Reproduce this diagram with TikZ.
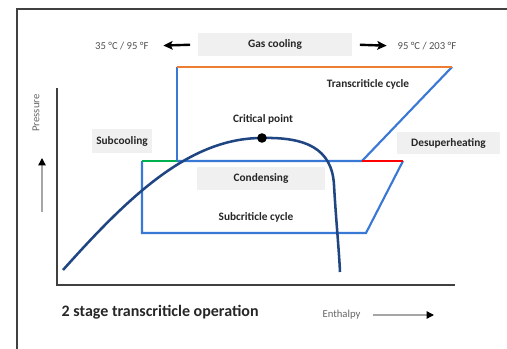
\documentclass[tikz,border=0pt]{standalone}
\usepackage{fontspec}
\setmainfont{Carlito}
\usepackage{tikz}
\usetikzlibrary{arrows.meta,positioning,calc}
\definecolor{clrTxt}{RGB}{38,38,38}
\definecolor{clrAx}{RGB}{64,64,64}
\definecolor{clrCyc}{RGB}{58,120,214}
\definecolor{clrDome}{RGB}{31,70,130}
\definecolor{clrGc}{RGB}{237,125,49}
\definecolor{clrSc}{RGB}{0,176,80}
\definecolor{clrDs}{RGB}{255,0,0}
\definecolor{bgBox}{RGB}{240,240,240}
\tikzset{
  lbl/.style={font=\fontsize{8.5}{10}\selectfont\bfseries,text=clrTxt,inner sep=1pt},
  tag/.style={lbl,fill=bgBox,inner sep=0pt},
  temp/.style={font=\fontsize{8}{10}\selectfont,text=clrTxt!80,inner sep=1pt},
  axis/.style={font=\fontsize{8}{9}\selectfont,text=black!60,inner sep=1pt},
  cycle/.style={line width=1.6pt,color=clrCyc},
  dome/.style={line width=1.9pt,color=clrDome},
  arrow/.style={-{Stealth[length=7pt,width=6.5pt,inset=1.5pt]},line width=1.8pt,color=black},
  axarrow/.style={-{Triangle[length=5.5pt,width=5.5pt,color=black]},line width=1pt,color=gray!70}
}

\begin{document}
\begin{tikzpicture}[x=0.75pt,y=-0.75pt]
  \clip (0,0) rectangle (507,349);
  \draw[clrAx,line width=1pt] (17,360) -- (17,9) -- (520,9);
  \draw[clrAx,line width=1.5pt] (57,88) -- (57,285) -- (455,285);
  \coordinate (t1) at (177,67);
  \coordinate (t2) at (452,67);
  \coordinate (t3) at (362,161);
  \coordinate (t4) at (177,161);
  \coordinate (s1) at (142,161);
  \coordinate (s2) at (142,233);
  \coordinate (s3) at (366,233);
  \coordinate (s4) at (403,161);
  \draw[cycle] (t4) -- (t1);
  \draw[cycle] (t2) -- (t3) -- (t4);
  \draw[cycle] (s4) -- (s3) -- (s2) -- (s1);
  \draw[line width=1.6pt,clrGc] (t1) -- (t2);
  \draw[line width=1.6pt,clrDs] (t3) -- (s4);
  \draw[line width=1.6pt,clrSc] (s1) -- (t4);
  \draw[dome] (63,270) .. controls (130,195) and (190,138) .. (262,138)
    .. controls (305,137) and (332,148) .. (334,185)
    .. controls (336,220) and (339,250) .. (340,272);
  \fill[black] (262,138) circle (3.6pt);
  \node[tag,minimum width=115pt,minimum height=17pt] (gas) at (275,44.5) {Gas cooling};
  \node[temp,anchor=east] (lo) at (150,46) {35 °C / 95 °F};
  \node[temp,anchor=west] (hi) at (396,46) {95 °C / 203 °F};
  \draw[arrow,shorten <=6pt,shorten >=10pt] (gas.west) -- (lo.east);
  \draw[arrow,shorten <=6pt,shorten >=7pt] (gas.east) -- (hi.west);
  \node[lbl] (trans) at (368,84) {Transcriticle cycle};
  \node[lbl] (crit) at (263,119) {Critical point};
  \node[tag,minimum width=45pt,minimum height=18pt] (sub) at (122,141) {Subcooling};
  \node[tag,minimum width=77pt,minimum height=16.5pt] (desup) at (448.5,143) {Desuperheating};
  \node[tag,minimum width=96pt,minimum height=17pt] (cond) at (261,178.5) {Condensing};
  \node[lbl] (subc) at (256,217) {Subcriticle cycle};
  \node[font=\fontsize{12}{14}\selectfont\bfseries,text=clrTxt,anchor=west] (title) at (57,312)
    {2 stage transcriticle operation};
  \node[axis,rotate=90] (pres) at (36,113) {Pressure};
  \coordinate (p0) at (42,212);
  \coordinate (p1) at (42,158);
  \draw[axarrow] (p0) -- (p1);
  \node[axis,anchor=west] (enth) at (321,315) {Enthalpy};
  \coordinate (e1) at (434,315);
  \draw[axarrow,shorten <=8pt] (enth.east) -- (e1);
\end{tikzpicture}
\end{document}
